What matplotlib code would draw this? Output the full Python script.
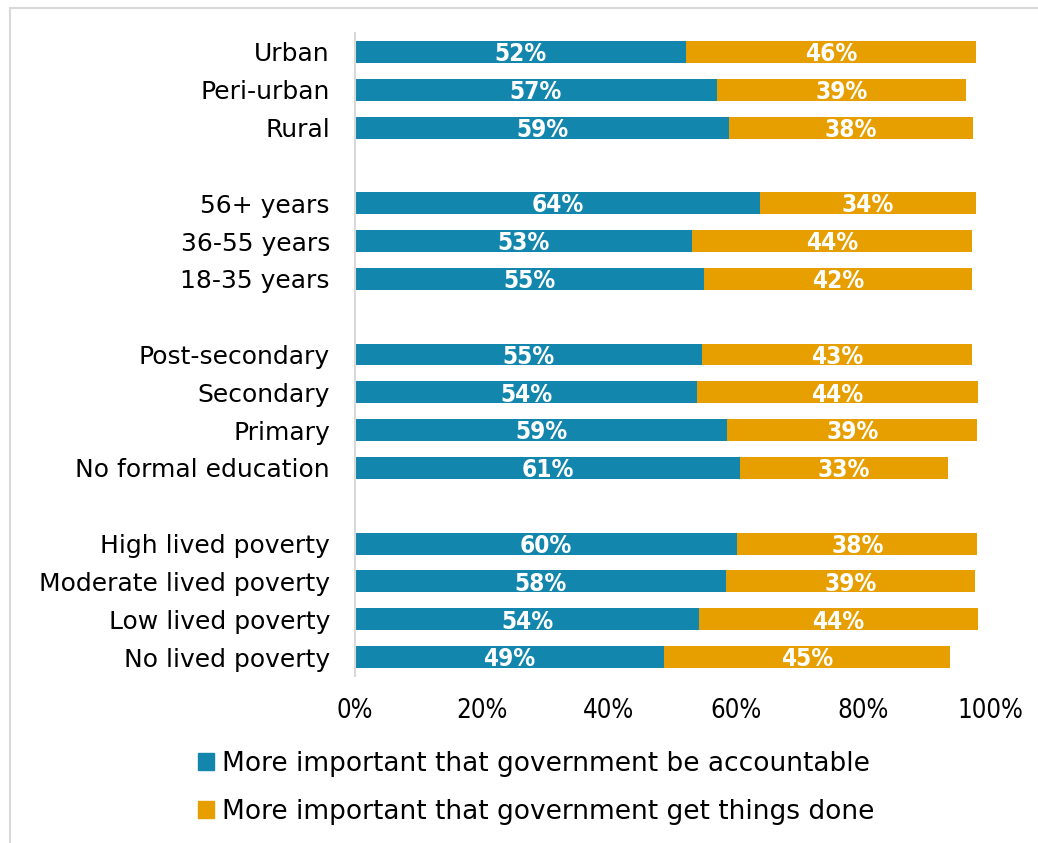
import matplotlib
matplotlib.use('Agg')
import matplotlib.pyplot as plt
from matplotlib.patches import Rectangle, Patch

# rows from top to bottom, None marks a blank spacer row between groups
categories = ['Urban', 'Peri-urban', 'Rural', None,
              '56+ years', '36-55 years', '18-35 years', None,
              'Post-secondary', 'Secondary', 'Primary', 'No formal education', None,
              'High lived poverty', 'Moderate lived poverty', 'Low lived poverty', 'No lived poverty']
accountable = [52.1, 57.0, 58.9, None,
               63.8, 53.1, 55.0, None,
               54.6, 53.9, 58.6, 60.6, None,
               60.2, 58.4, 54.2, 48.7]
get_done = [45.7, 39.2, 38.4, None,
            34.0, 44.1, 42.2, None,
            42.6, 44.2, 39.4, 32.8, None,
            37.8, 39.2, 43.9, 45.0]
series_names = ['More important that government be accountable',
                'More important that government get things done']
xticks = [0, 20, 40, 60, 80, 100]

blue = '#1286ad'
orange = '#e79f00'
txt_font = ['DejaVu Sans']

fig = plt.figure(figsize=(10.38, 8.43), dpi=100)
ax = fig.add_axes([355 / 1038, 1 - 676 / 843, 635 / 1038, 643 / 843])

n = len(categories)
ys = [n - 1 - i for i in range(n)]
for y, a, g in zip(ys, accountable, get_done):
    if a is None:
        continue
    ax.barh(y, a, height=0.58, color=blue)
    ax.barh(y, g, left=a, height=0.58, color=orange)
    ax.text(a / 2, y - 0.06, f'{a:.0f}%', ha='center', va='center', color='white',
            fontsize=17.5, fontweight='bold', fontstretch='condensed', family=txt_font)
    ax.text(a + g / 2, y - 0.06, f'{g:.0f}%', ha='center', va='center', color='white',
            fontsize=17.5, fontweight='bold', fontstretch='condensed', family=txt_font)

ax.set_ylim(-0.5, n - 0.5)
ax.set_xlim(0, 100)
ax.set_yticks([y for y, c in zip(ys, categories) if c is not None])
ax.set_yticklabels([c for c in categories if c is not None], fontsize=18, family=txt_font)
ax.set_xticks(xticks)
ax.set_xticklabels([f'{t}%' for t in xticks], fontsize=18.5, family=txt_font,
                   fontstretch='condensed')
ax.tick_params(length=0)
ax.tick_params(axis='y', pad=18)
ax.tick_params(axis='x', pad=16)
for s in ['top', 'right', 'bottom']:
    ax.spines[s].set_visible(False)
ax.spines['left'].set_color('#d9d9d9')
ax.spines['left'].set_linewidth(1.5)

handles = [Patch(color=blue), Patch(color=orange)]
fig.legend(handles, series_names, loc='upper left', bbox_to_anchor=(198 / 1038, 1 - 751 / 843),
           frameon=False, handlelength=0.6, handleheight=0.6, handletextpad=0.3,
           labelspacing=0.82, borderpad=0, borderaxespad=0,
           prop={'family': txt_font, 'size': 19})

# light frame around the picture
fig.patches.append(Rectangle((10 / 1038, -0.1), 1.2, 1 - 8 / 843 + 0.1,
                             transform=fig.transFigure, fill=False,
                             edgecolor='#d9d9d9', linewidth=1.5))

fig.savefig('out.png', dpi=100)
